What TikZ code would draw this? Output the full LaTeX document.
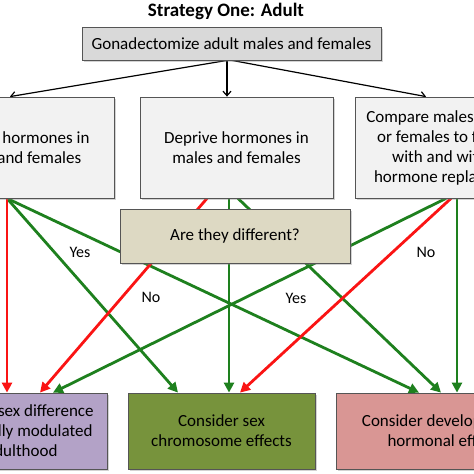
\documentclass[tikz,border=0pt]{standalone}
\usepackage{fontspec}
\setmainfont{Carlito}
\usetikzlibrary{arrows.meta,shadows,calc,backgrounds}
\definecolor{rd}{RGB}{250,20,20}
\definecolor{gn}{RGB}{30,128,30}
\definecolor{bordergray}{RGB}{85,85,85}
\definecolor{topfill}{RGB}{217,217,217}
\definecolor{rowfill}{RGB}{242,242,242}
\definecolor{qfill}{RGB}{221,217,195}
\definecolor{purplefill}{RGB}{179,162,199}
\definecolor{olivefill}{RGB}{119,147,60}
\definecolor{pinkfill}{RGB}{217,150,148}
\begin{document}
\begin{tikzpicture}[x=1pt,y=-1pt,
  box/.style={draw=bordergray, line width=0.8pt, inner sep=0pt, align=center,
    font=\fontsize{17}{20}\selectfont,
    drop shadow={opacity=0.35,shadow xshift=1.8pt,shadow yshift=-1.8pt}},
  blk/.style={black, line width=1.2pt, -{Straight Barb[length=4.5pt,width=8pt,line width=1.2pt]}},
  rline/.style={rd, line width=2.8pt, -{Triangle[length=10pt,width=10pt]}},
  gline/.style={gn, line width=2.8pt, -{Triangle[length=10pt,width=10pt]}},
  lbl/.style={font=\fontsize{16}{18}\selectfont, inner sep=0pt}]
\useasboundingbox (0,0) rectangle (474,474);
\clip (0,0) rectangle (474,474);
\node[font=\bfseries\fontsize{19}{22}\selectfont] (title) at (226,11) {Strategy One: Adult};
\node[box, fill=topfill, minimum width=299pt, minimum height=33pt] (T) at (231.5,43.5) {Gonadectomize adult males and females};
\node[box, fill=rowfill, minimum width=194pt, minimum height=101pt] (A) at (17,147.5) {Replace hormones in\\males and females};
\node[box, fill=rowfill, minimum width=193pt, minimum height=101pt] (B) at (236.5,147.5) {Deprive hormones in\\males and females};
\node[box, fill=rowfill, minimum width=193pt, minimum height=101pt] (C) at (451.5,147.5) {Compare males to males\\or females to females\\with and without\\hormone replacement};
\node[box, fill=qfill, minimum width=230pt, minimum height=54pt] (Q) at (235,236) {Are they different?};
\node[box, fill=purplefill, minimum width=187pt, minimum height=76pt] (D) at (13.5,431) {Consider sex difference\\hormonally modulated\\in adulthood};
\node[box, fill=olivefill, minimum width=187pt, minimum height=76pt] (E) at (221.5,431) {Consider sex\\chromosome effects};
\node[box, fill=pinkfill, minimum width=220pt, minimum height=76pt] (F) at (446,431) {Consider developmental\\hormonal effects};
\node[lbl] (yes1) at (80,252) {Yes};
\node[lbl] (no1) at (151,297) {No};
\node[lbl] (yes2) at (296,298) {Yes};
\node[lbl] (no2) at (426,252) {No};
\coordinate (t1) at ($(T.south)+(-4.5,0)$);
\coordinate (t2) at ($(T.south)+(0.5,0)$);
\coordinate (a0) at ($(A.south)+(-10,0)$);
\coordinate (b0) at ($(B.south)+(-29.5,0)$);
\coordinate (b1) at ($(B.south)+(-7.5,0)$);
\coordinate (b2) at ($(B.south)+(1.5,0)$);
\coordinate (c0) at ($(C.south)+(-5.5,0)$);
\coordinate (c1) at ($(C.south)+(-0.5,0)$);
\coordinate (c2) at ($(C.south)+(5.5,0)$);
\coordinate (d0) at ($(D.north)+(-6.5,0)$);
\coordinate (d1) at ($(D.north)+(26.5,0)$);
\coordinate (d2) at ($(D.north)+(39.5,0)$);
\coordinate (e0) at ($(E.north)+(-43.5,0)$);
\coordinate (e1) at ($(E.north)+(7.5,0)$);
\coordinate (e2) at ($(E.north)+(18.5,0)$);
\coordinate (f0) at ($(F.north)+(-27,0)$);
\coordinate (f1) at ($(F.north)+(-5,0)$);
\coordinate (f2) at ($(F.north)+(11,0)$);
\begin{pgfonlayer}{background}
\draw[blk] (t1) -- ($(A.north)+(-7,0)$);
\draw[blk] (t1) -- ($(B.north)+(-9.5,0)$);
\draw[blk] (t2) -- ($(C.north)+(-25.5,0)$);
\draw[gline] (a0) -- (e0);
\draw[gline] (a0) -- (f0);
\draw[gline] (b2) -- (f1);
\draw[gline] (b1) -- (e1);
\draw[gline] (c0) -- (d2);
\draw[gline] (c2) -- (f2);
\draw[rline] (a0) -- (d0);
\draw[rline] (b0) -- (d1);
\draw[rline] (c1) -- (e2);
\end{pgfonlayer}
\end{tikzpicture}
\end{document}
